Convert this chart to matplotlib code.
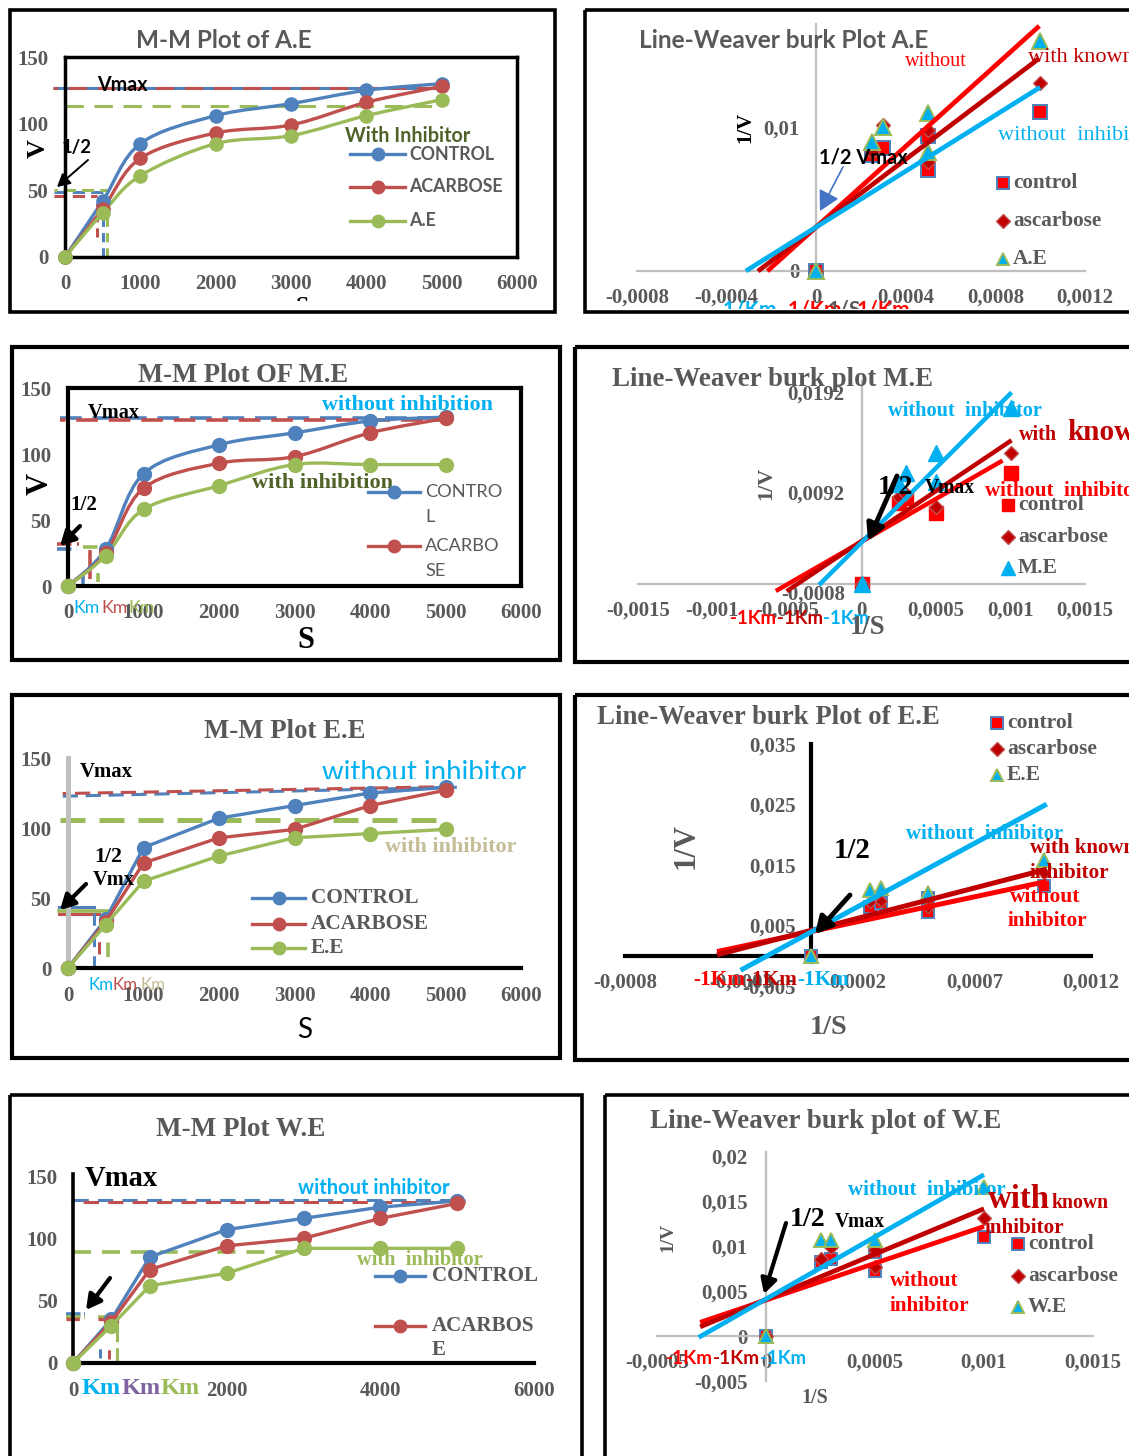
import numpy as np
import matplotlib
matplotlib.use("Agg")
import matplotlib.pyplot as plt
from matplotlib.path import Path
from matplotlib.patches import PathPatch, Rectangle
from matplotlib.transforms import Bbox

# ---------------------------------------------------------------- data
S = [0, 500, 1000, 2000, 3000, 4000, 5000]

# Michaelis-Menten velocities
ae_control = [0, 42, 85, 106, 115, 125, 130]
ae_acarbose = [0, 36, 74, 93, 99, 116, 128]
ae_extract = [0, 33, 61, 85, 91, 106, 118]

me_control = [0, 28, 85, 107, 116, 125, 128]
me_acarbose = [0, 25, 74, 93, 98, 116, 127]
me_extract = [0, 23, 58, 76, 92, 92, 92]

ee_control = [0, 35, 86, 107, 116, 125, 129]
ee_acarbose = [0, 33, 75, 93, 99, 116, 127]
ee_extract = [0, 31, 62, 80, 93, 96, 99]

we_control = [0, 35, 85, 107, 116, 125, 130]
we_acarbose = [0, 33, 75, 94, 100, 116, 128]
we_extract = [0, 30, 62, 72, 92, 92, 92]

# Vmax, half-Vmax and Km guide values (control, acarbose, extract)
ae_vmax = [127, 126.5, 113]
ae_half = [48.5, 45.5, 50.5]
ae_km = [500, 420, 555]

me_vmax = [127, 125.5]
me_half = [28, 32, 29.5]
me_km = [200, 290, 395]

ee_vmax_start = [122.7, 124.6, 106]
ee_vmax_end = [129.1, 129.5, 106]
ee_half = [43.4, 38.6, 41]
ee_km = [345, 407, 526]

we_vmax = [130.8, 129.2, 89.4]
we_half = [39.5, 35.2, 36.8]
we_km = [350, 470, 570]

# Lineweaver-Burk points (1/S, 1/V)
ae_inv_s = [0, 0.00025, 0.0003, 0.0005, 0.0005, 0.001]
ae_inv_control = [0, 0.0081, 0.0086, 0.0094, 0.0070, 0.0111]
ae_inv_acarbose = [0, 0.0083, 0.0102, 0.0098, 0.0076, 0.0131]
ae_inv_extract = [0, 0.0090, 0.0100, 0.0110, 0.0083, 0.0160]
ae_slope = [14.06, 11.8, 9.74]
ae_icpt = [0.00306, 0.00306, 0.00306]
ae_fit_x0 = [-0.000218, -0.00026, -0.000314]
ae_fit_x1 = [0.000996, 0.000996, 0.001]

me_inv_s = [0, 0.00025, 0.0003, 0.0005, 0.001]
me_inv_control = [0, 0.0081, 0.0086, 0.0071, 0.0111]
me_inv_acarbose = [0, 0.0087, 0.0090, 0.0077, 0.0131]
me_inv_s_ext = [0, 0.00025, 0.0003, 0.0005, 0.0005, 0.001]
me_inv_extract = [0, 0.0100, 0.0111, 0.0102, 0.0131, 0.0176]
me_slope = [8.57, 10.0, 14.9]
me_icpt = [0.00423, 0.0043, 0.00415]
me_fit_x0 = [-0.000575, -0.000502, -0.000285]
me_fit_x1 = [0.000947, 0.001007, 0.001007]

ee_inv_s_ctl = [0, 0.00025, 0.0003, 0.0005, 0.0005, 0.001]
ee_inv_control = [0, 0.0081, 0.0087, 0.0073, 0.0095, 0.0115]
ee_inv_s = [0, 0.00025, 0.0003, 0.0005, 0.001]
ee_inv_acarbose = [0, 0.0088, 0.0090, 0.0080, 0.0137]
ee_inv_extract = [0, 0.0109, 0.0112, 0.0104, 0.0159]
ee_slope = [8.2, 10.0, 20.9]
ee_icpt = [0.0040, 0.0042, 0.00395]
ee_fit_x0 = [-0.000405, -0.000405, -0.000304]
ee_fit_x1 = [0.00101, 0.00101, 0.00101]

we_inv_s = [0, 0.00025, 0.0003, 0.0005, 0.0005, 0.001]
we_inv_control = [0, 0.0083, 0.0086, 0.0072, 0.0094, 0.0110]
we_inv_acarbose = [0, 0.0086, 0.0099, 0.0077, 0.0096, 0.0131]
we_inv_s_ext = [0, 0.00025, 0.0003, 0.0005, 0.001]
we_inv_extract = [0, 0.0107, 0.0107, 0.0107, 0.0166]
we_slope = [8.2, 10.1, 13.84]
we_icpt = [0.00401, 0.00408, 0.00413]
we_fit_x0 = [-0.000302, -0.000302, -0.000309]
we_fit_x1 = [0.001, 0.001, 0.001]

mm_ticks_x = [0, 1000, 2000, 3000, 4000, 5000, 6000]
mm_ticks_y = [0, 50, 100, 150]

# ---------------------------------------------------------------- styles
W, H, DPI = 1129, 1456, 100
SERIF = ["Liberation Serif", "DejaVu Serif"]
SANS = ["Lato", "DejaVu Sans"]
GREY = "#595959"
BLUE, RED, GREEN = "#4f81bd", "#c0504d", "#9bbb59"
CYAN, BRIGHT, DARK = "#00b0f0", "#ff0000", "#c00000"
OLIVE, TAN, PURPLE, AXGREY = "#4f6228", "#c4bd97", "#8064a2", "#bfbfbf"

fig = plt.figure(figsize=(W / DPI, H / DPI), dpi=DPI)
fig.patch.set_facecolor("white")
renderer = fig.canvas.get_renderer()

ov = fig.add_axes([0, 0, 1, 1], zorder=20)
ov.set_xlim(0, W)
ov.set_ylim(H, 0)
ov.axis("off")


def fit_size(s, w, fam, bold, size=12):
    t = ov.text(0, 0, s, fontsize=size, family=fam,
                fontweight="bold" if bold else "normal")
    width = t.get_window_extent(renderer).width
    t.remove()
    return size * w / width


def T(x, y, s, size=12, color=GREY, fam=SERIF, bold=True, ha="left",
      va="center", rot=0, w=None, clip=None):
    if w:
        size = fit_size(s, w, fam, bold, size)
    t = ov.text(x, y, s, fontsize=size, color=color, family=fam,
                fontweight="bold" if bold else "normal", ha=ha, va=va,
                rotation=rot, zorder=6)
    if clip:
        x0, y0, x1, y1 = clip
        t.set_clip_box(Bbox.from_extents(x0, H - y1, x1, H - y0))
        t.set_clip_on(True)
    return t


def arrow(x0, y0, x1, y1, color="black", lw=2.0, ms=16):
    ov.annotate("", xy=(x1, y1), xytext=(x0, y0),
                arrowprops=dict(arrowstyle="-|>,head_length=0.55,head_width=0.3",
                                color=color, lw=lw, mutation_scale=ms,
                                shrinkA=0, shrinkB=0), zorder=7)


def border(x0, y0, x1, y1, lw=2.6):
    ov.add_patch(Rectangle((x0, y0), x1 - x0, y1 - y0, fill=False,
                           edgecolor="black", lw=lw, zorder=8))


def data_ax(xl, xpx, yl, ypx):
    x0, x1 = xpx
    yb, yt = ypx
    ax = fig.add_axes([x0 / W, 1 - yb / H, (x1 - x0) / W, (yb - yt) / H], zorder=5)
    ax.set_xlim(xl)
    ax.set_ylim(yl)
    ax.patch.set_alpha(0)
    return ax


def smooth_path(x, y):
    pts = np.column_stack([x, y]).astype(float)
    n = len(pts)
    verts, codes = [pts[0]], [Path.MOVETO]
    for i in range(n - 1):
        p0, p1, p2 = pts[max(i - 1, 0)], pts[i], pts[i + 1]
        p3 = pts[min(i + 2, n - 1)]
        verts += [p1 + (p2 - p0) / 6, p2 - (p3 - p1) / 6, p2]
        codes += [Path.CURVE4] * 3
    return Path(verts, codes)


def mm_series(ax, y, color, smooth, ms=9.5, lw=2.4):
    if smooth:
        ax.add_patch(PathPatch(smooth_path(S, y), fill=False, edgecolor=color,
                               lw=lw, zorder=3, clip_on=False))
        ax.plot(S, y, ls="none", marker="o", ms=ms, color=color, zorder=4, clip_on=False)
    else:
        ax.plot(S, y, color=color, lw=lw, marker="o", ms=ms, zorder=3, clip_on=False)


def hdash(ax, y, x0, x1, color, lw=2.2, dash=(5, 2.5), off=0.0):
    ax.plot([x0, x1], [y, y], color=color, lw=lw, ls=(off, dash),
            clip_on=False, zorder=2, solid_capstyle="butt", dash_capstyle="butt")


def vdash(ax, x, y0, y1, color, lw=2.2, dash=(3, 2)):
    ax.plot([x, x], [y0, y1], color=color, lw=lw, ls=(0, dash),
            clip_on=False, zorder=2, dash_capstyle="butt")


def mm_ticks(ax, xt, size, xpad, ypad):
    ax.set_xticks(xt, [str(v) for v in xt], fontfamily=SERIF, fontweight="bold",
                  color=GREY, fontsize=size)
    ax.set_yticks(mm_ticks_y, [str(v) for v in mm_ticks_y], fontfamily=SERIF,
                  fontweight="bold", color=GREY, fontsize=size)
    ax.tick_params(axis="x", length=0, pad=xpad)
    ax.tick_params(axis="y", length=0, pad=ypad)


def fmt(v):
    return ("%g" % v).replace(".", ",")


def lb_axes(xl, xpx, yl, ypx, xt, yt, color, lw, xpad, ypad, ybounds=None, size=15):
    ax = data_ax(xl, xpx, yl, ypx)
    ax.spines["top"].set_visible(False)
    ax.spines["right"].set_visible(False)
    ax.spines["left"].set_position(("data", 0))
    ax.spines["bottom"].set_position(("data", 0))
    for s in ("left", "bottom"):
        ax.spines[s].set_color(color)
        ax.spines[s].set_linewidth(lw)
    if ybounds:
        ax.spines["left"].set_bounds(*ybounds)
    ax.set_xticks(xt, [fmt(v) for v in xt], fontfamily=SERIF, fontweight="bold",
                  color=GREY, fontsize=size)
    ax.set_yticks(yt, [fmt(v) for v in yt], fontfamily=SERIF, fontweight="bold",
                  color=GREY, fontsize=size)
    ax.tick_params(axis="x", length=0, pad=xpad)
    ax.tick_params(axis="y", length=0, pad=ypad)
    return ax


CTRL_M = dict(marker="s", mfc=BRIGHT, mec=BLUE, mew=1.4)
ACA_M = dict(marker="D", mfc=DARK, mec=RED, mew=1.0)
EXT_M = dict(marker="^", mfc=CYAN, mec=GREEN, mew=1.4)


def lb_points(ax, x, y, style, ms):
    ax.plot(x, y, ls="none", ms=ms, clip_on=False, zorder=3, **style)


def lb_fits(ax, slopes, icpts, x0s, x1s, lw=3.2):
    for k, c in enumerate((BRIGHT, DARK, CYAN)):
        xs = np.array([x0s[k], x1s[k]])
        ax.plot(xs, icpts[k] + slopes[k] * xs, color=c, lw=lw,
                solid_capstyle="butt", clip_on=False, zorder=4)


def mm_legend(x0, x1, xt, rows, labels, colors, fam, bold, w, lw=2.4, ms=9):
    size = fit_size(labels[0], w, fam, bold)
    for y, lab, c in zip(rows, labels, colors):
        if c is not None:
            ov.plot([x0, x1], [y, y], color=c, lw=lw, zorder=6)
            ov.plot([(x0 + x1) / 2], [y], marker="o", ms=ms, color=c, zorder=6)
        T(xt, y, lab, fam=fam, bold=bold, size=size)


def lb_legend(xm, xt, rows, styles, labels, w, ms=(8, 7, 9)):
    # w is the width of the longest entry, "ascarbose"
    size = fit_size(labels[1], w, SERIF, True)
    for y, st, lab, m in zip(rows, styles, labels, ms):
        ov.plot([xm], [y], ls="none", ms=m, zorder=6, **st)
        T(xt, y, lab, size=size)


# ================================================================ panel 1: M-M A.E
ax = data_ax((0, 6000), (65, 517), (0, 150), (257, 57))
for s in ax.spines.values():
    s.set_linewidth(2.5)
    s.set_color("black")
mm_ticks(ax, mm_ticks_x, 15, 12, 12)
hdash(ax, ae_vmax[0], -160, 5000, BLUE, dash=(6, 3.5))
hdash(ax, ae_vmax[1], -160, 5000, RED, dash=(6, 3.5), off=4.5)
hdash(ax, ae_vmax[2], 0, 4900, GREEN, dash=(6, 3.5))
hdash(ax, ae_half[0], -150, ae_km[0], BLUE, dash=(4, 2))
hdash(ax, ae_half[1], -150, ae_km[1], RED, dash=(4, 2))
hdash(ax, ae_half[2], -140, ae_km[2], GREEN, dash=(4, 2), off=3)
vdash(ax, ae_km[0], 0, ae_half[0] - 4, BLUE)
vdash(ax, ae_km[1], 15, ae_half[1] - 5, RED)
vdash(ax, ae_km[2], 0, 30, GREEN)
mm_series(ax, ae_control, BLUE, True)
mm_series(ax, ae_acarbose, RED, True)
mm_series(ax, ae_extract, GREEN, True)

T(224, 40, "M-M Plot of A.E", fam=SANS, ha="center", w=175)
T(97, 85, "Vmax", color="black", fam=SANS, w=50)
T(62, 147, "1/2", color="black", fam=SANS, w=30)
T(38, 148, "V", color="black", rot=90, size=19, ha="center")
T(345, 136, "With Inhibitor", color=OLIVE, fam=SANS, w=124)
T(302, 307, "S", color="black", size=17, ha="center", clip=(0, 0, W, 301))
arrow(88, 160, 57, 187, lw=1.4, ms=14)
mm_legend(350, 405, 409, [154, 187, 221], ["CONTROL", "ACARBOSE", "A.E"],
          [BLUE, RED, GREEN], SANS, True, 85)

# ================================================================ panel 2: L-B A.E
ax = lb_axes((-0.0008, 0.0012), (637, 1085), (0, 0.0172), (271, 24),
             [-0.0008, -0.0004, 0, 0.0004, 0.0008, 0.0012], [0, 0.01],
             AXGREY, 1.6, 12, 12)
lb_points(ax, ae_inv_s, ae_inv_control, CTRL_M, 10)
lb_points(ax, ae_inv_s, ae_inv_acarbose, ACA_M, 7.5)
lb_points(ax, ae_inv_s, ae_inv_extract, EXT_M, 11)
lb_fits(ax, ae_slope, ae_icpt, ae_fit_x0, ae_fit_x1, lw=3.4)

T(784, 40, "Line-Weaver burk Plot A.E", fam=SANS, ha="center", w=288)
T(905, 62, "without", color=BRIGHT, bold=False, w=62)
T(1028, 58, "with known", color=DARK, bold=False, size=16)
T(998, 135, "without  inhibitor", color=CYAN, bold=False, size=16)
T(745, 127, "1/V", color="black", rot=90, size=15, ha="center")
T(819, 157, "1/2 Vmax", color="black", fam=SANS, w=88)
arrow(843, 167, 820, 211, color="#4472c4", lw=1.2, ms=22)
lb_legend(1003, 1013, [183, 221, 259], [CTRL_M, ACA_M, EXT_M],
          ["control", "ascarbose", "A.E"], 88)
clip2 = (0, 0, W, 309)
T(716, 310, "-1/Km", color=CYAN, fam=SANS, size=15, clip=clip2)
T(781, 310, "-1/Km", color=BRIGHT, fam=SANS, size=15, clip=clip2)
T(828, 310, "1/S", color=GREY, fam=SANS, size=15, clip=clip2)
T(857, 310, "1/Km", color=BRIGHT, fam=SANS, size=15, clip=clip2)

# ================================================================ panel 3: M-M M.E
ax = data_ax((0, 6000), (68, 521), (0, 150), (586, 388))
for s in ax.spines.values():
    s.set_linewidth(3.0)
    s.set_color("black")
mm_ticks(ax, mm_ticks_x, 15, 12, 12)
hdash(ax, me_vmax[0], -100, 5000, BLUE, lw=2.6, dash=(6, 3))
hdash(ax, me_vmax[1], -100, 5000, RED, lw=2.6, dash=(6, 3), off=4.5)
hdash(ax, me_half[0], -150, 120, BLUE, lw=2.6, dash=(4, 1.5))
hdash(ax, me_half[1], -150, 150, RED, lw=2.6, dash=(4, 1.5))
hdash(ax, me_half[2], 200, 410, GREEN, lw=2.6, dash=(4, 1.5))
vdash(ax, me_km[0], 0, 10, BLUE, lw=2.6)
vdash(ax, me_km[1], 5, 30, RED, lw=2.6, dash=(8, 2))
vdash(ax, me_km[2], 3, 10, GREEN, lw=2.6)
mm_series(ax, me_control, BLUE, True, ms=10)
mm_series(ax, me_acarbose, RED, True, ms=10)
mm_series(ax, me_extract, GREEN, True, ms=10)

T(243, 375, "M-M Plot OF M.E", ha="center", w=210)
T(88, 413, "Vmax", color="black", w=52)
T(322, 405, "without inhibition", color=CYAN, w=170)
T(252, 483, "with inhibition", color=OLIVE, w=140)
T(70, 505, "1/2", color="black", w=27)
T(40, 484, "V", color="black", rot=90, size=22, ha="center")
T(306, 640, "S", color="black", size=22, ha="center")
arrow(80, 526, 60, 546, lw=3, ms=16)
T(73, 608, "Km", color=CYAN, fam=SANS, bold=False, w=26)
T(101, 608, "Km", color=RED, fam=SANS, bold=False, w=26)
T(128, 608, "Km", color=GREEN, fam=SANS, bold=False, w=26)
mm_legend(368, 420, 425, [492, 517, 546, 571], ["CONTRO", "L", "ACARBO", "SE"],
          [BLUE, None, RED, None], SANS, False, 77)

# ================================================================ panel 4: L-B M.E
ax = lb_axes((-0.0015, 0.0015), (638, 1085), (-0.0008, 0.0203), (592, 381),
             [-0.0015, -0.001, -0.0005, 0, 0.0005, 0.001, 0.0015],
             [-0.0008, 0.0092, 0.0192], AXGREY, 1.6, 12, 12, ybounds=(0, 0.0203))
lb_points(ax, me_inv_s, me_inv_control, dict(marker="s", mfc=BRIGHT, mec=BRIGHT), 10)
lb_points(ax, me_inv_s, me_inv_acarbose, dict(marker="D", mfc=DARK, mec=RED, mew=1), 7.5)
lb_points(ax, me_inv_s_ext, me_inv_extract, dict(marker="^", mfc=CYAN, mec=CYAN), 11)
lb_fits(ax, me_slope, me_icpt, me_fit_x0, me_fit_x1, lw=3.2)

T(773, 380, "Line-Weaver burk plot M.E", ha="center", w=319)
T(888, 411, "without  inhibitor", color=CYAN, w=153)
T(1019, 435, "with", color=DARK, w=38)
T(1067, 433, "know", color=DARK, size=21)
T(985, 491, "without  inhibitor", color=BRIGHT, size=15)
T(878, 487, "1/2", color="black", size=20)
T(925, 488, "Vmax", color="black", w=50)
T(766, 483, "1/V", rot=90, size=16, ha="center")
arrow(897, 476, 868, 541, lw=3.5, ms=18)
lb_legend(1008, 1018, [505, 537, 568],
          [dict(marker="s", mfc=BRIGHT, mec=BRIGHT), dict(marker="D", mfc=DARK, mec=RED),
           dict(marker="^", mfc=CYAN, mec=CYAN)],
          ["control", "ascarbose", "M.E"], 89, ms=(9, 7, 10))
T(730, 619, "-1Km", color=BRIGHT, fam=SANS, w=46)
T(777, 619, "-1Km", color=DARK, fam=SANS, w=46)
T(823, 619, "-1Km", color=CYAN, fam=SANS, w=46)
T(868, 627, "1/S", ha="center", w=36)

# ================================================================ panel 5: M-M E.E
ax = data_ax((0, 6000), (68, 521), (0, 150), (968, 758))
ax.spines["top"].set_visible(False)
ax.spines["right"].set_visible(False)
ax.spines["left"].set_color(AXGREY)
ax.spines["left"].set_linewidth(3.6)
ax.spines["bottom"].set_color("black")
ax.spines["bottom"].set_linewidth(3.0)
mm_ticks(ax, mm_ticks_x, 15, 13, 12)
ax.plot([-70, 5150], [ee_vmax_start[0], ee_vmax_end[0]], color=BLUE, lw=2.2,
        ls=(0, (5, 2.5)), clip_on=False, zorder=2)
ax.plot([-70, 5000], [ee_vmax_start[1], ee_vmax_end[1]], color=RED, lw=2.2,
        ls=(3.5, (5, 2.5)), clip_on=False, zorder=2)
hdash(ax, ee_vmax_start[2], -100, 5000, GREEN, lw=3.6, dash=(5, 2.8))
ax.plot([-120, ee_km[0]], [ee_half[0], ee_half[0]], color=BLUE, lw=2.2, clip_on=False, zorder=2)
ax.plot([-120, ee_km[2]], [ee_half[2], ee_half[2]], color=GREEN, lw=2.6, clip_on=False, zorder=2)
ax.plot([-120, ee_km[1]], [ee_half[1], ee_half[1]], color=RED, lw=2.2, clip_on=False, zorder=2)
vdash(ax, ee_km[0], 0, ee_half[0], BLUE, dash=(4, 3))
vdash(ax, ee_km[1], 10, 30, RED, dash=(4, 3))
vdash(ax, ee_km[2], 8, 30, GREEN, lw=2.6, dash=(4, 3))
mm_series(ax, ee_control, BLUE, False, ms=10)
mm_series(ax, ee_acarbose, RED, False, ms=10)
mm_series(ax, ee_extract, GREEN, False, ms=10)

T(285, 732, "M-M Plot E.E", ha="center", w=160)
T(80, 772, "Vmax", color="black", w=53)
T(322, 773, "without inhibitor", color=CYAN, fam=SANS, bold=False, w=203,
  clip=(0, 0, W, 779))
T(385, 847, "with inhibitor", color=TAN, w=130)
T(94, 857, "1/2", color="black", w=28)
T(93, 880, "Vmx", color="black", w=42)
arrow(86, 884, 60, 910, lw=3, ms=16)
T(88, 985, "Km", color=CYAN, fam=SANS, bold=False, w=25)
T(113, 985, "Km", color=RED, fam=SANS, bold=False, w=25)
T(140, 985, "Km", color=TAN, fam=SANS, bold=False, w=25)
T(305, 1030, "S", color="black", fam=SANS, bold=False, size=20, ha="center")
mm_legend(252, 305, 311, [898, 924, 948], ["CONTROL", "ACARBOSE", "E.E"],
          [BLUE, RED, GREEN], SERIF, True, 107)

# ================================================================ panel 6: L-B E.E
ax = lb_axes((-0.0008, 0.0012), (625, 1091), (-0.0055, 0.035), (989, 744),
             [-0.0008, -0.0003, 0.0002, 0.0007, 0.0012],
             [-0.005, 0.005, 0.015, 0.025, 0.035], "black", 3.0, 12, 11,
             ybounds=(-0.001, 0.035))
lb_points(ax, ee_inv_s_ctl, ee_inv_control, CTRL_M, 8.5)
lb_points(ax, ee_inv_s, ee_inv_acarbose, ACA_M, 6.5)
lb_points(ax, ee_inv_s, ee_inv_extract, EXT_M, 10)
lb_fits(ax, ee_slope, ee_icpt, ee_fit_x0, ee_fit_x1, lw=3.6)

T(597, 717, "Line-Weaver burk Plot of E.E", w=341)
lb_legend(997, 1007, [723, 749, 775], [CTRL_M, ACA_M, EXT_M],
          ["control", "ascarbose", "E.E"], 89)
T(686, 846, "1/V", rot=90, size=22, ha="center")
T(852, 851, "1/2", color="black", ha="center", w=37)
T(906, 834, "without  inhibitor", color=CYAN, w=156)
T(1030, 848, "with known", color=DARK, size=15)
T(1030, 873, "inhibitor", color=DARK, w=80)
T(1010, 897, "without", color=BRIGHT, w=70)
T(1008, 921, "inhibitor", color=BRIGHT, w=80)
arrow(850, 895, 815, 934, lw=3.5, ms=18)
T(693, 980, "-1Km", color=BRIGHT, w=52)
T(745, 980, "-1Km", color=DARK, w=52)
T(797, 980, "-1Km", color=CYAN, w=52)
T(829, 1027, "1/S", ha="center", w=38)

# ================================================================ panel 7: M-M W.E
ax = data_ax((0, 6000), (73, 534), (0, 150), (1363, 1176))
ax.spines["top"].set_visible(False)
ax.spines["right"].set_visible(False)
ax.spines["left"].set_linewidth(2.6)
ax.spines["left"].set_bounds(0, 152)
ax.spines["bottom"].set_linewidth(3.0)
mm_ticks(ax, [0, 2000, 4000, 6000], 15, 13, 11)
hdash(ax, we_vmax[0], 0, 5100, BLUE, dash=(5, 3))
hdash(ax, we_vmax[1], -20, 5200, RED, dash=(5, 3), off=4)
hdash(ax, we_vmax[2], 0, 3000, GREEN, lw=2.6, dash=(5, 3))
hdash(ax, we_half[0], -85, 160, BLUE, lw=2.6, dash=(4, 1))
hdash(ax, we_half[2], -85, 160, GREEN, lw=2.6, dash=(4, 1))
hdash(ax, we_half[1], -85, 120, RED, lw=2.4, dash=(4, 1))
hdash(ax, we_half[2], 330, 540, GREEN, lw=2.6, dash=(4, 1))
hdash(ax, we_half[1], 330, 520, RED, lw=2.4, dash=(4, 1))
vdash(ax, we_km[0], 4, 15, BLUE)
vdash(ax, we_km[1], 3, 15, RED)
vdash(ax, we_km[2], 0, we_half[2] - 2, GREEN, dash=(5, 2))
mm_series(ax, we_control, BLUE, False, ms=10)
mm_series(ax, we_acarbose, RED, False, ms=10)
mm_series(ax, we_extract, GREEN, False, ms=10)

T(241, 1130, "M-M Plot W.E", ha="center", w=169)
T(85, 1178, "Vmax", color="black", w=73)
T(298, 1188, "without inhibitor", color=CYAN, fam=SANS, w=150)
T(357, 1260, "with  inhibitor", color=GREEN, w=125)
arrow(110, 1278, 86, 1310, lw=3, ms=16)
T(82, 1388, "Km", color=CYAN, w=39)
T(122, 1388, "Km", color=PURPLE, w=39)
T(161, 1388, "Km", color=GREEN, w=39)
mm_legend(375, 425, 432, [1276, 1326, 1350], ["CONTROL", "ACARBOS", "E"],
          [BLUE, RED, None], SERIF, True, 106)

# ================================================================ panel 8: L-B W.E
ax = lb_axes((-0.0005, 0.0015), (657, 1093), (-0.005, 0.0205), (1381, 1152),
             [-0.0005, 0, 0.0005, 0.001, 0.0015],
             [-0.005, 0, 0.005, 0.01, 0.015, 0.02], AXGREY, 1.6, 12, 13)
lb_points(ax, we_inv_s, we_inv_control, CTRL_M, 9)
lb_points(ax, we_inv_s, we_inv_acarbose, ACA_M, 7)
lb_points(ax, we_inv_s_ext, we_inv_extract, EXT_M, 10)
lb_fits(ax, we_slope, we_icpt, we_fit_x0, we_fit_x1, lw=3.4)

T(650, 1122, "Line-Weaver burk plot of W.E", w=350)
T(848, 1190, "without  inhibitor", color=CYAN, w=157)
T(988, 1200, "with", color=DARK, w=62)
T(1052, 1203, "known", color=DARK, w=57)
T(985, 1228, "inhibitor", color=DARK, w=80)
T(790, 1219, "1/2", color="black", w=36)
T(835, 1222, "Vmax", color="black", w=50)
T(668, 1237, "1/V", rot=90, size=14, ha="center")
arrow(786, 1223, 764, 1294, lw=3, ms=16)
lb_legend(1018, 1028, [1244, 1276, 1307], [CTRL_M, ACA_M, EXT_M],
          ["control", "ascarbose", "W.E"], 89)
T(890, 1281, "without", color=BRIGHT, w=68)
T(890, 1306, "inhibitor", color=BRIGHT, w=80)
T(666, 1358, "-1Km", color=BRIGHT, fam=SANS, w=47)
T(713, 1358, "-1Km", color=DARK, fam=SANS, w=47)
T(760, 1358, "-1Km", color=CYAN, fam=SANS, w=46)
T(815, 1398, "1/S", ha="center", w=27)

# ---------------------------------------------------------------- frames
border(10, 10, 555, 312)
border(585, 10, 1135, 312)
border(12, 347, 560, 660, lw=3)
border(575, 347, 1135, 662, lw=3)
border(12, 695, 560, 1058, lw=3)
border(575, 695, 1135, 1060, lw=3)
border(10, 1095, 582, 1470)
border(605, 1095, 1140, 1470)

fig.savefig("out.png", dpi=DPI, facecolor="white")
